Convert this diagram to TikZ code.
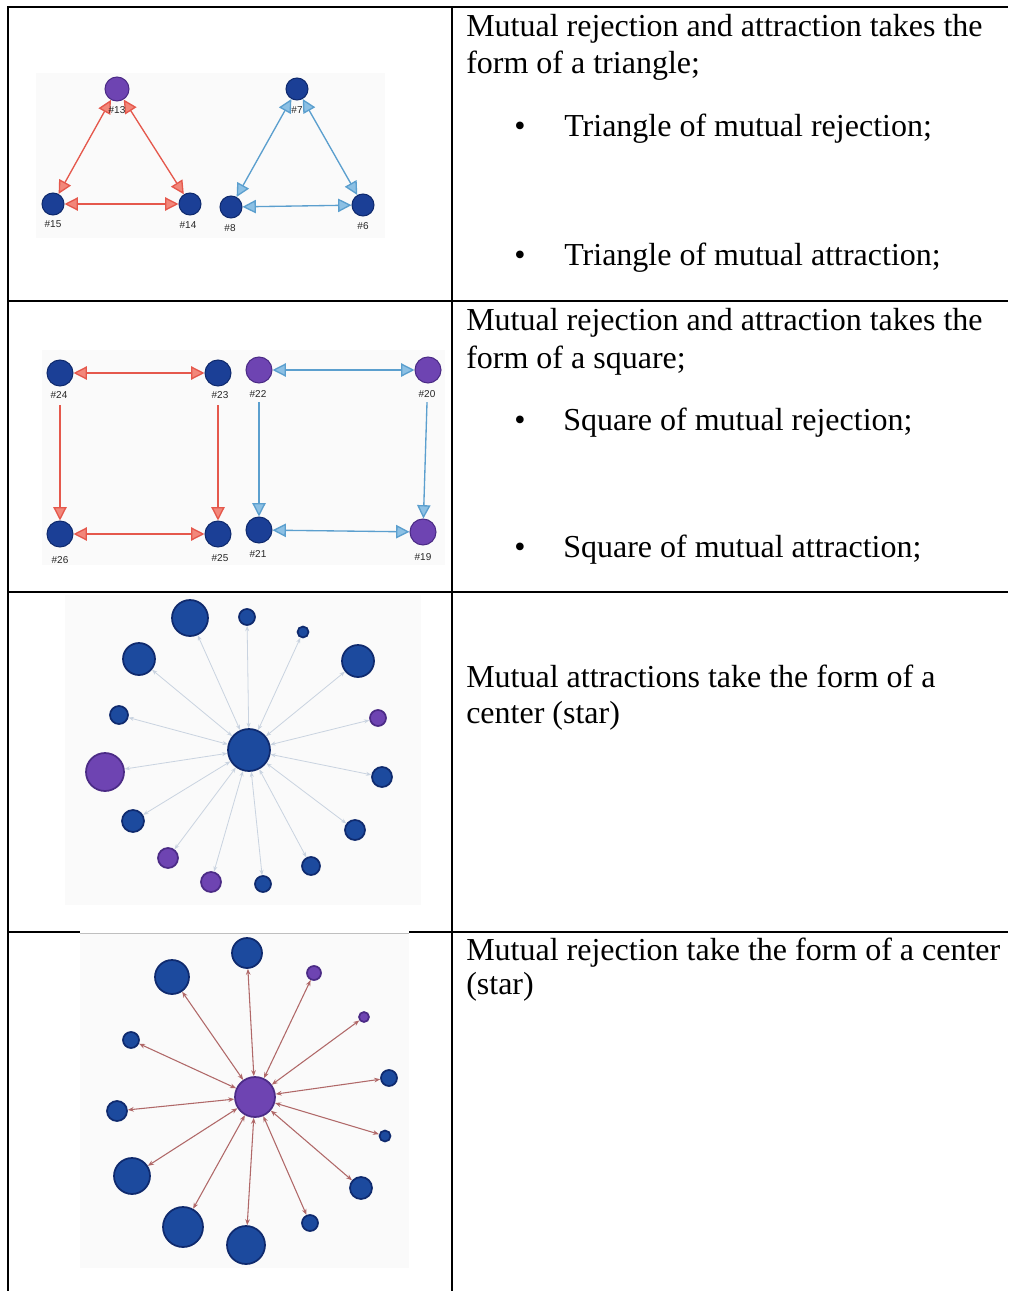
\documentclass[tikz,border=0pt]{standalone}
\usepackage{fontspec}
\setmainfont{Liberation Serif}
\newfontfamily\lblfont{Liberation Sans}
\usetikzlibrary{arrows.meta}
\definecolor{nblue}{HTML}{1B3F96}
\definecolor{sblue}{HTML}{1C4A9E}
\definecolor{nbluedk}{HTML}{0F2A6E}
\definecolor{npurp}{HTML}{6E44B2}
\definecolor{npurpdk}{HTML}{4B2B86}
\definecolor{redline}{HTML}{E5584C}
\definecolor{redtip}{HTML}{F2877A}
\definecolor{blueline}{HTML}{5B9FCE}
\definecolor{bluetip}{HTML}{8CC0E4}
\definecolor{attline}{HTML}{C9D3E0}
\definecolor{rejline}{HTML}{B06868}
\definecolor{imgbg}{HTML}{FAFAFA}
\begin{document}
\begin{tikzpicture}[x=0.75pt,y=-0.75pt,
  tline/.style={line width=1.5pt},
  txt/.style={anchor=base west,inner sep=0pt,font=\fontsize{24}{28}\selectfont},
  bul/.style={anchor=base,inner sep=0pt,font=\fontsize{24}{24}\selectfont},
  bn/.style={circle,draw=nbluedk,fill=nblue,line width=0.8pt,inner sep=0pt,minimum size=#1*0.75pt},
  pn/.style={circle,draw=npurpdk,fill=npurp,line width=0.8pt,inner sep=0pt,minimum size=#1*0.75pt},
  sbn/.style={circle,draw=nbluedk,fill=sblue,line width=1.3pt,inner sep=0pt,minimum size=#1*0.75pt},
  spn/.style={circle,draw=npurpdk,fill=npurp,line width=1.3pt,inner sep=0pt,minimum size=#1*0.75pt},
  lbl/.style={inner sep=0pt,font=\lblfont\fontsize{7.5}{7.5}\selectfont,text=black!85},
  redarr/.style={draw=redline,line width=1pt,>={Triangle[length=10pt,width=10pt,fill=redtip]}},
  bluearr/.style={draw=blueline,line width=1pt,>={Triangle[length=10pt,width=10pt,fill=bluetip]}},
  attedge/.style={draw=attline,line width=0.6pt,<->,>={Stealth[length=4pt,width=3pt]}},
  rejedge/.style={draw=rejline,line width=0.8pt,<->,>={Stealth[length=4.5pt,width=3.5pt]}},
  imgbox/.style={fill=imgbg,draw=none}
]
\useasboundingbox (0,0) rectangle (1008,1291);
\fill[white] (0,0) rectangle (1008,1291);

% image backgrounds
\path[imgbox] (36,73) rectangle (385,238);
\path[imgbox] (42,350) rectangle (445,565);
\path[imgbox] (65,595) rectangle (421,905);

% table lines
\draw[tline] (8,1291) -- (8,7) -- (1008,7);
\draw[tline] (452,7) -- (452,1291);
\draw[tline] (8,301) -- (1008,301);
\draw[tline] (8,592) -- (1008,592);
\draw[tline] (8,932) -- (80,932);
\draw[tline] (409,932) -- (1008,932);
\path[imgbox] (80,933) rectangle (409,1268);
\draw[black!25,line width=0.5pt] (80,933) -- (409,933);

% ---------- Row 1 text ----------
\node[txt] (r1a) at (466,37) {Mutual rejection and attraction takes the};
\node[txt] (r1b) at (466,74) {form of a triangle;};
\node[bul] (b1a) at (520,137) {•};
\node[txt] (r1c) at (564,137) {Triangle of mutual rejection;};
\node[bul] (b1b) at (520,265) {•};
\node[txt] (r1d) at (564,265) {Triangle of mutual attraction;};

% ---------- Row 2 text ----------
\node[txt] (r2a) at (466,330) {Mutual rejection and attraction takes the};
\node[txt] (r2b) at (466,368) {form of a square;};
\node[bul] (b2a) at (520,430) {•};
\node[txt] (r2c) at (563,430) {Square of mutual rejection;};
\node[bul] (b2b) at (520,557) {•};
\node[txt] (r2d) at (563,557) {Square of mutual attraction;};

% ---------- Row 3 / 4 text ----------
\node[txt] (r3a) at (466,687) {Mutual attractions take the form of a};
\node[txt] (r3b) at (466,723) {center (star)};
\node[txt] (r4a) at (466,960) {Mutual rejection take the form of a center};
\node[txt] (r4b) at (466,994) {(star)};

% ---------- Row 1 graph: triangles ----------
\node[pn=24] (n13) at (117,89) {};
\node[bn=22] (n15) at (53,204) {};
\node[bn=22] (n14) at (190,204) {};
\node[bn=22] (n7) at (297,89) {};
\node[bn=22] (n8) at (231,207) {};
\node[bn=22] (n6) at (363,205) {};
\draw[redarr,<->] (n13) -- (n15);
\draw[redarr,<->] (n13) -- (n14);
\draw[redarr,<->] (n15) -- (n14);
\draw[bluearr,<->] (n7) -- (n8);
\draw[bluearr,<->] (n7) -- (n6);
\draw[bluearr,<->] (n8) -- (n6);
\node[lbl] (l13) at (117,110) {\#13};
\node[lbl] (l15) at (53,224) {\#15};
\node[lbl] (l14) at (188,225) {\#14};
\node[lbl] (l7) at (297,110) {\#7};
\node[lbl] (l8) at (230,228) {\#8};
\node[lbl] (l6) at (363,226) {\#6};

% ---------- Row 2 graph: squares ----------
\node[bn=26] (n24) at (60,373) {};
\node[bn=26] (n23) at (218,373) {};
\node[pn=26] (n22) at (259,370) {};
\node[pn=26] (n20) at (428,370) {};
\node[bn=26] (n26) at (60,534) {};
\node[bn=26] (n25) at (218,534) {};
\node[bn=26] (n21) at (259,530) {};
\node[pn=26] (n19) at (423,532) {};
\draw[redarr,<->] (n24) -- (n23);
\draw[redarr,<->] (n26) -- (n25);
\draw[redarr,->,shorten <=14pt] (n24) -- (n26);
\draw[redarr,->,shorten <=14pt] (n23) -- (n25);
\draw[bluearr,<->] (n22) -- (n20);
\draw[bluearr,<->] (n21) -- (n19);
\draw[bluearr,->,shorten <=14pt] (n22) -- (n21);
\draw[bluearr,->,shorten <=14pt] (n20) -- (n19);
\node[lbl] (l24) at (59,395) {\#24};
\node[lbl] (l23) at (220,395) {\#23};
\node[lbl] (l22) at (258,394) {\#22};
\node[lbl] (l20) at (427,394) {\#20};
\node[lbl] (l26) at (60,560) {\#26};
\node[lbl] (l25) at (220,558) {\#25};
\node[lbl] (l21) at (258,554) {\#21};
\node[lbl] (l19) at (423,557) {\#19};

% ---------- Row 3 graph: attraction star ----------
\node[sbn=42] (c3) at (249,750) {};
\node[sbn=36] (s1) at (190,618) {};
\node[sbn=16] (s2) at (247,617) {};
\node[sbn=11] (s3) at (303,632) {};
\node[sbn=32] (s4) at (358,661) {};
\node[spn=16] (s5) at (378,718) {};
\node[sbn=20] (s6) at (382,777) {};
\node[sbn=20] (s7) at (355,830) {};
\node[sbn=18] (s8) at (311,866) {};
\node[sbn=16] (s9) at (263,884) {};
\node[spn=20] (s10) at (211,882) {};
\node[spn=20] (s11) at (168,858) {};
\node[sbn=22] (s12) at (133,821) {};
\node[spn=38] (s13) at (105,772) {};
\node[sbn=18] (s14) at (119,715) {};
\node[sbn=32] (s15) at (139,659) {};
\foreach \i in {1,...,15} \draw[attedge] (c3) -- (s\i);

% ---------- Row 4 graph: rejection star ----------
\node[spn=40] (c4) at (255,1097) {};
\node[sbn=30] (t1) at (247,953) {};
\node[spn=14] (t2) at (314,973) {};
\node[spn=10] (t3) at (364,1017) {};
\node[sbn=16] (t4) at (389,1078) {};
\node[sbn=11] (t5) at (385,1136) {};
\node[sbn=22] (t6) at (361,1188) {};
\node[sbn=16] (t7) at (310,1223) {};
\node[sbn=38] (t8) at (246,1245) {};
\node[sbn=40] (t9) at (183,1227) {};
\node[sbn=36] (t10) at (132,1176) {};
\node[sbn=20] (t11) at (117,1111) {};
\node[sbn=16] (t12) at (131,1040) {};
\node[sbn=34] (t13) at (172,977) {};
\foreach \i in {1,...,13} \draw[rejedge] (c4) -- (t\i);
\end{tikzpicture}
\end{document}
